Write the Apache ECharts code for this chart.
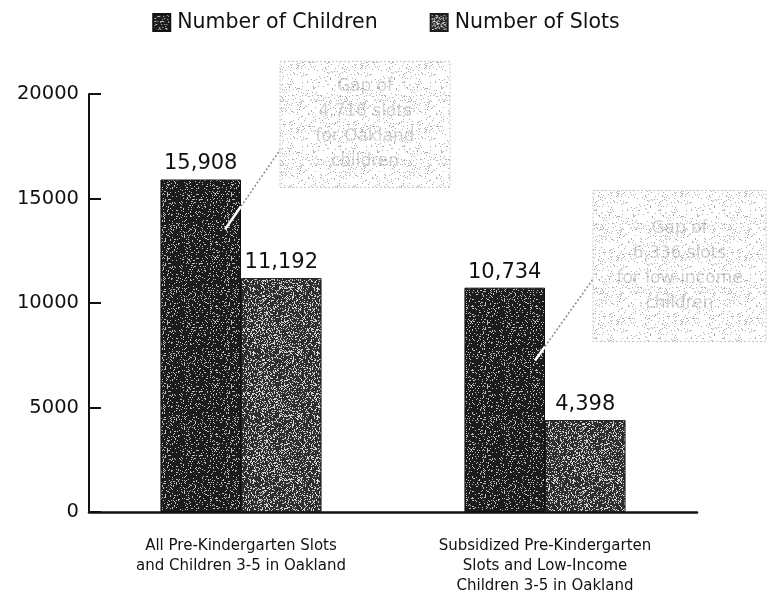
<!DOCTYPE html>
<html>
<head>
<meta charset="utf-8">
<title>Pre-Kindergarten Slots and Children 3-5 in Oakland</title>
<script src="https://cdn.jsdelivr.net/npm/echarts@6/dist/echarts.min.js"></script>
<style>
  html, body { margin: 0; padding: 0; background: #ffffff; }
  #chart { width: 772px; height: 596px; }
</style>
</head>
<body>
<div id="chart"></div>
<script>
// ---- data ----
const categories = [
  'All Pre-Kindergarten Slots\nand Children 3-5 in Oakland',
  'Subsidized Pre-Kindergarten\nSlots and Low-Income\nChildren 3-5 in Oakland'
];
const seriesNames = ['Number of Children', 'Number of Slots'];
const childrenCounts = [15908, 10734];
const slotCounts = [11192, 4398];
const yTickValues = [0, 5000, 10000, 15000, 20000];
const gapNotes = [
  ['Gap of', '4,716 slots', 'for Oakland', 'children'],
  ['Gap of', '6,336 slots', 'for low-income', 'children']
];

// ---- speckled fills (deterministic LCG so the texture is stable) ----
function speckleTile(base, dot, density, seed, size) {
  const c = document.createElement('canvas');
  c.width = size; c.height = size;
  const ctx = c.getContext('2d');
  ctx.fillStyle = base;
  ctx.fillRect(0, 0, size, size);
  let s = seed >>> 0;
  const rnd = () => { s = (Math.imul(s, 1664525) + 1013904223) >>> 0; return s / 4294967296; };
  ctx.fillStyle = dot;
  for (let y = 0; y < size; y++) {
    for (let x = 0; x < size; x++) {
      if (rnd() < density) ctx.fillRect(x, y, 1, 1);
    }
  }
  return { image: c, repeat: 'repeat' };
}

const childrenFill = speckleTile('#1c1c1c', '#bdbdbd', 0.13, 17, 64);
const slotsFill = speckleTile('#2e2e2e', '#d0d0d0', 0.26, 91, 64);
const noteFill = speckleTile('#ffffff', '#b0b0b0', 0.09, 53, 64);

const chart = echarts.init(document.getElementById('chart'), null, { renderer: 'canvas' });

const FONT = 'DejaVu Sans';
const fmt = v => Number(v).toLocaleString('en-US');

chart.setOption({
  backgroundColor: '#ffffff',
  animation: false,
  textStyle: { fontFamily: FONT, color: '#111' },
  legend: {
    top: 7,
    left: 'center',
    icon: 'rect',
    itemWidth: 17,
    itemHeight: 17,
    itemGap: 52,
    textStyle: { fontFamily: FONT, fontSize: 20.5, color: '#111', padding: [0, 0, 0, 2] },
    data: seriesNames
  },
  grid: { left: 89, right: 75, top: 94, bottom: 82, containLabel: false },
  xAxis: {
    type: 'category',
    data: categories,
    axisLine: { show: true, lineStyle: { color: '#111', width: 2.5 } },
    axisTick: { show: false },
    axisLabel: { fontFamily: FONT, fontSize: 15, lineHeight: 20, color: '#111', margin: 24, interval: 0 }
  },
  yAxis: {
    type: 'value',
    min: yTickValues[0],
    max: yTickValues[yTickValues.length - 1],
    interval: yTickValues[1] - yTickValues[0],
    axisLine: { show: true, lineStyle: { color: '#111', width: 2 } },
    axisTick: { show: true, inside: true, length: 12, lineStyle: { color: '#111', width: 2 } },
    splitLine: { show: false },
    axisLabel: { fontFamily: FONT, fontSize: 19.5, color: '#111', margin: 10, formatter: v => String(v) }
  },
  series: [
    {
      name: seriesNames[0],
      type: 'bar',
      data: childrenCounts,
      barGap: '0%',
      barCategoryGap: '47%',
      itemStyle: { color: childrenFill, borderColor: '#111', borderWidth: 1 },
      label: { show: true, position: 'top', distance: 5, fontFamily: FONT, fontSize: 21, color: '#111', formatter: p => fmt(p.value) }
    },
    {
      name: seriesNames[1],
      type: 'bar',
      data: slotCounts,
      itemStyle: { color: slotsFill, borderColor: '#1e1e1e', borderWidth: 1 },
      label: { show: true, position: 'top', distance: 5, fontFamily: FONT, fontSize: 21, color: '#111', formatter: p => fmt(p.value) }
    }
  ]
});

// ---- callout notes with leader lines into the "children" bars ----
function drawNotes() {
  const anchorShare = [0.85, 0.675];     // where the leader touches each children bar
  const anchorInset = [16, 10];          // px left of the bar's right edge
  const boxOffset = [[55, -168], [58, -170]];
  const boxSize = [[170, 126], [173, 151]];
  const graphics = [];
  categories.forEach((cat, i) => {
    const center = chart.convertToPixel({ xAxisIndex: 0, yAxisIndex: 0 }, [i, childrenCounts[i] * anchorShare[i]]);
    const ex = center[0] - anchorInset[i];
    const ey = center[1];
    const bx = ex + boxOffset[i][0];
    const by = ey + boxOffset[i][1];
    const [bw, bh] = boxSize[i];
    const tx = bx + 6;
    const ty = by + 80;
    // point where the leader leaves the bar (bar's right edge = category centre)
    const t = (center[0] - ex) / (tx - ex);
    const mx = ex + (tx - ex) * t;
    const my = ey + (ty - ey) * t;

    graphics.push({
      type: 'rect', z: 10,
      shape: { x: bx, y: by, width: bw, height: bh },
      style: { fill: noteFill, stroke: '#c4c4c4', lineWidth: 1, lineDash: [2, 2] }
    });
    graphics.push({
      type: 'text', z: 11,
      x: bx + bw / 2, y: by + bh / 2,
      style: {
        text: gapNotes[i].join('\n'),
        fontFamily: FONT, fontSize: 17, lineHeight: 25,
        fill: 'rgba(120,120,120,0.33)',
        align: 'center', verticalAlign: 'middle'
      }
    });
    graphics.push({
      type: 'line', z: 9,
      shape: { x1: mx, y1: my, x2: tx, y2: ty },
      style: { stroke: '#8a8a8a', lineWidth: 1.5, lineDash: [2, 2] }
    });
    graphics.push({
      type: 'line', z: 9,
      shape: { x1: ex, y1: ey, x2: mx, y2: my },
      style: { stroke: '#ffffff', lineWidth: 2.5 }
    });
  });
  chart.setOption({ graphic: graphics });
}
drawNotes();
</script>
</body>
</html>
